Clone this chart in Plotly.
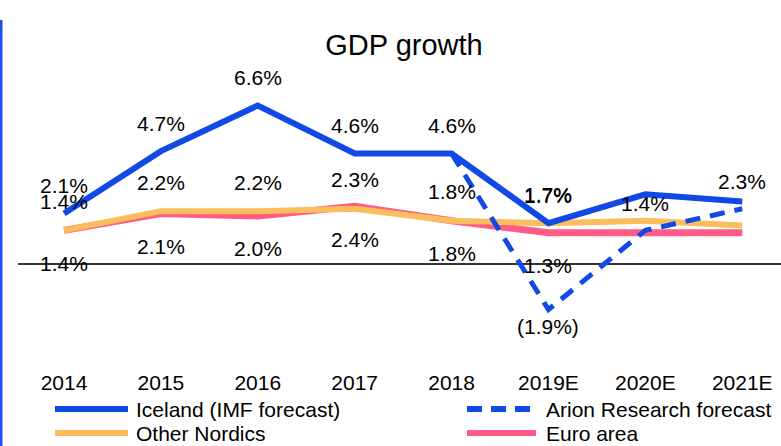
import plotly.graph_objects as go

years = ["2014", "2015", "2016", "2017", "2018", "2019E", "2020E", "2021E"]

iceland = [2.1, 4.7, 6.6, 4.6, 4.6, 1.7, 2.9, 2.6]
arion = [None, None, None, None, 4.6, -1.9, 1.4, 2.3]
nordics = [1.4, 2.2, 2.2, 2.3, 1.8, 1.7, 1.8, 1.6]
euro = [1.4, 2.1, 2.0, 2.4, 1.8, 1.3, 1.3, 1.3]

iceland_labels = ["2.1%", "4.7%", "6.6%", "4.6%", "4.6%", "1.7%", "", ""]
arion_labels = ["", "", "", "", "", "(1.9%)", "1.4%", "2.3%"]
nordics_labels = ["1.4%", "2.2%", "2.2%", "2.3%", "1.8%", "1.7%", "", ""]
euro_labels = ["1.4%", "2.1%", "2.0%", "2.4%", "1.8%", "1.3%", "", ""]

BLUE = "#1149E6"
ORANGE = "#FBBE5C"
PINK = "#FF5B86"
FONT = "Liberation Sans, Arial, sans-serif"

W, H = 781, 446
L, R, T, B = 18, 0, 70, 81


def px(x):
    return (x - L) / (W - L - R)


def py(y):
    return (H - B - y) / (H - T - B)


fig = go.Figure()

fig.add_trace(go.Scatter(x=years, y=euro, mode="lines", name="Euro area",
                         line=dict(color=PINK, width=7)))
fig.add_trace(go.Scatter(x=years, y=nordics, mode="lines", name="Other Nordics",
                         line=dict(color=ORANGE, width=6)))
fig.add_trace(go.Scatter(x=years, y=arion, mode="lines", name="Arion Research forecast",
                         line=dict(color=BLUE, width=5, dash="15px,10px")))
fig.add_trace(go.Scatter(x=years, y=iceland, mode="lines", name="Iceland (IMF forecast)",
                         line=dict(color=BLUE, width=6)))

# data labels (x given as category index, "2014" would be read as a number)
annotations = []


def add_labels(values, labels, shift):
    for i, (v, t) in enumerate(zip(values, labels)):
        if not t or v is None:
            continue
        s = shift
        if v < 0:
            s = -17
        annotations.append(dict(x=i, y=v, xref="x", yref="y", text=t, showarrow=False,
                                yshift=s, font=dict(size=21, color="black", family=FONT)))


add_labels(iceland, iceland_labels, 28)
add_labels(nordics, nordics_labels, 29)
add_labels(arion, arion_labels, 27)
add_labels(euro, euro_labels, -33)

# manual legend
legend_items = [
    ("Iceland (IMF forecast)", BLUE, "solid", 55, 128, 134, 409),
    ("Arion Research forecast", BLUE, "15px,9px", 467, 530, 544, 409),
    ("Other Nordics", ORANGE, "solid", 55, 128, 134, 433),
    ("Euro area", PINK, "solid", 467, 536, 544, 433),
]
shapes = []
for name, color, dash, x0, x1, tx, yy in legend_items:
    shapes.append(dict(type="line", xref="paper", yref="paper", x0=px(x0), x1=px(x1),
                       y0=py(yy), y1=py(yy), line=dict(color=color, width=6, dash=dash)))
    annotations.append(dict(x=px(tx), y=py(yy), xref="paper", yref="paper", text=name,
                            showarrow=False, xanchor="left", yanchor="middle",
                            font=dict(size=21, color="black", family=FONT)))

# slide border on the left
shapes.append(dict(type="line", xref="paper", yref="paper", x0=px(1), x1=px(1),
                   y0=py(446), y1=py(20), line=dict(color="#1F4FF0", width=3)))

fig.update_layout(
    width=W, height=H,
    margin=dict(l=L, r=R, t=T, b=B),
    paper_bgcolor="white", plot_bgcolor="white",
    showlegend=False,
    title=dict(text="GDP growth", x=404 / W, xref="container", xanchor="center",
               y=1 - 45 / H, yref="container", yanchor="middle",
               font=dict(size=29, color="black", family=FONT)),
    xaxis=dict(type="category", range=[-0.475, 7.40], showgrid=False, showline=False,
               ticks="", ticklabelstandoff=3,
               tickfont=dict(size=21, color="black", family=FONT)),
    yaxis=dict(range=[-4.21, 8.08], showgrid=False, showticklabels=False,
               zeroline=True, zerolinecolor="#333333", zerolinewidth=1.5),
    annotations=annotations,
    shapes=shapes,
)

fig.write_html("out.html", config={"displayModeBar": False},
               post_script="document.body.style.margin='0';")
